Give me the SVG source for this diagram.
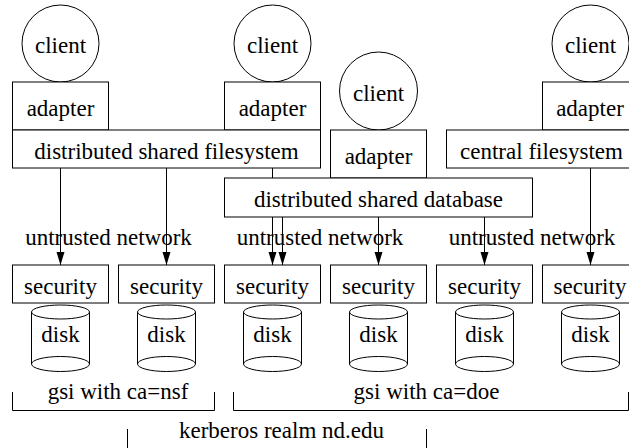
<svg xmlns="http://www.w3.org/2000/svg" width="629" height="448" viewBox="0 0 629 448">
<defs>
  <path id="ah" d="M-4,-13 L4,-13 L0,0 Z" fill="#000"/>
</defs>
<rect x="-1" y="-1" width="631" height="450" fill="#fff"/>
<g font-family="Liberation Serif" font-size="23" text-anchor="middle" fill="#000">
<g id="labels-network">
  <text x="108.5" y="245">untrusted network</text>
  <text x="320" y="245">untrusted network</text>
  <text x="532" y="245">untrusted network</text>
</g>
</g>

<g id="connectors" stroke="#000" stroke-width="1" fill="none">
  <line x1="60.5" y1="168" x2="60.5" y2="265"/>
  <line x1="166.5" y1="168" x2="166.5" y2="265"/>
  <line x1="272.5" y1="168" x2="272.5" y2="265"/>
  <line x1="282.5" y1="217" x2="282.5" y2="265"/>
  <line x1="378.5" y1="217" x2="378.5" y2="265"/>
  <line x1="484.5" y1="217" x2="484.5" y2="265"/>
  <line x1="590.5" y1="168" x2="590.5" y2="265"/>
  <g stroke="none">
    <use href="#ah" x="60.5" y="265"/>
    <use href="#ah" x="166.5" y="265"/>
    <use href="#ah" x="272.5" y="265"/>
    <use href="#ah" x="282.5" y="265"/>
    <use href="#ah" x="378.5" y="265"/>
    <use href="#ah" x="484.5" y="265"/>
    <use href="#ah" x="590.5" y="265"/>
  </g>
</g>

<g fill="#fff" stroke="#000" stroke-width="1">
<g id="client1"><circle cx="60.5" cy="43.5" r="38.5"/></g>
<g id="client2"><circle cx="272.5" cy="43.5" r="38.5"/></g>
<g id="client3"><circle cx="378.5" cy="91" r="39"/></g>
<g id="client4"><circle cx="590.5" cy="43.5" r="38.5"/></g>
<g id="adapter1"><rect x="12.5" y="82" width="96" height="48"/></g>
<g id="adapter2"><rect x="224.5" y="82" width="96" height="48"/></g>
<g id="adapter3"><rect x="330.5" y="130" width="96" height="48"/></g>
<g id="adapter4"><rect x="542.5" y="82" width="100" height="48"/></g>
<g id="dsf"><rect x="12.5" y="130" width="308" height="38"/></g>
<g id="cfs"><rect x="446.5" y="130" width="196" height="38"/></g>
<g id="dsdb"><rect x="224.5" y="178" width="308" height="39"/></g>
<g id="sec1"><rect x="12.5" y="265" width="96" height="38"/></g>
<g id="sec2"><rect x="118.5" y="265" width="96" height="38"/></g>
<g id="sec3"><rect x="224.5" y="265" width="96" height="38"/></g>
<g id="sec4"><rect x="330.5" y="265" width="96" height="38"/></g>
<g id="sec5"><rect x="436.5" y="265" width="96" height="38"/></g>
<g id="sec6"><rect x="542.5" y="265" width="100" height="38"/></g>
<g id="disk1"><path d="M31.5,312 L31.5,364 A29,7.5 0 0 0 89.5,364 L89.5,312"/><ellipse cx="60.5" cy="312" rx="29" ry="7"/><path fill="none" d="M31.5,364 A29,7.5 0 0 1 89.5,364"/></g>
<g id="disk2"><path d="M137.5,312 L137.5,364 A29,7.5 0 0 0 195.5,364 L195.5,312"/><ellipse cx="166.5" cy="312" rx="29" ry="7"/><path fill="none" d="M137.5,364 A29,7.5 0 0 1 195.5,364"/></g>
<g id="disk3"><path d="M243.5,312 L243.5,364 A29,7.5 0 0 0 301.5,364 L301.5,312"/><ellipse cx="272.5" cy="312" rx="29" ry="7"/><path fill="none" d="M243.5,364 A29,7.5 0 0 1 301.5,364"/></g>
<g id="disk4"><path d="M349.5,312 L349.5,364 A29,7.5 0 0 0 407.5,364 L407.5,312"/><ellipse cx="378.5" cy="312" rx="29" ry="7"/><path fill="none" d="M349.5,364 A29,7.5 0 0 1 407.5,364"/></g>
<g id="disk5"><path d="M455.5,312 L455.5,364 A29,7.5 0 0 0 513.5,364 L513.5,312"/><ellipse cx="484.5" cy="312" rx="29" ry="7"/><path fill="none" d="M455.5,364 A29,7.5 0 0 1 513.5,364"/></g>
<g id="disk6"><path d="M561.5,312 L561.5,364 A29,7.5 0 0 0 619.5,364 L619.5,312"/><ellipse cx="590.5" cy="312" rx="29" ry="7"/><path fill="none" d="M561.5,364 A29,7.5 0 0 1 619.5,364"/></g>
<g id="gsi-nsf" fill="none"><path d="M12.5,392 L12.5,410.5 L214.5,410.5 L214.5,392"/></g>
<g id="gsi-doe" fill="none"><path d="M233.5,392 L233.5,410.5 L628.5,410.5 L628.5,392"/></g>
<g id="kerberos" fill="none"><path d="M127.5,429 L127.5,460 M426.5,429 L426.5,460"/></g>
</g>

<g id="texts" font-family="Liberation Serif" font-size="23" text-anchor="middle" fill="#000">
  <text x="60.5" y="53">client</text>
  <text x="272.5" y="53">client</text>
  <text x="378.5" y="101">client</text>
  <text x="590.5" y="53">client</text>
  <text x="60.5" y="115.5">adapter</text>
  <text x="272.5" y="115.5">adapter</text>
  <text x="378.5" y="163.5">adapter</text>
  <text x="590" y="115.5">adapter</text>
  <text x="166.5" y="158.5">distributed shared filesystem</text>
  <text x="541.5" y="158.5">central filesystem</text>
  <text x="378.5" y="207">distributed shared database</text>
  <text x="60.5" y="294">security</text>
  <text x="166.5" y="294">security</text>
  <text x="272.5" y="294">security</text>
  <text x="378.5" y="294">security</text>
  <text x="484.5" y="294">security</text>
  <text x="590" y="294">security</text>
  <text x="60.5" y="342">disk</text>
  <text x="166.5" y="342">disk</text>
  <text x="272.5" y="342">disk</text>
  <text x="378.5" y="342">disk</text>
  <text x="484.5" y="342">disk</text>
  <text x="590.5" y="342">disk</text>
  <text x="118" y="399">gsi with ca=nsf</text>
  <text x="426.5" y="399">gsi with ca=doe</text>
  <text x="281.5" y="438">kerberos realm nd.edu</text>
</g>
</svg>
